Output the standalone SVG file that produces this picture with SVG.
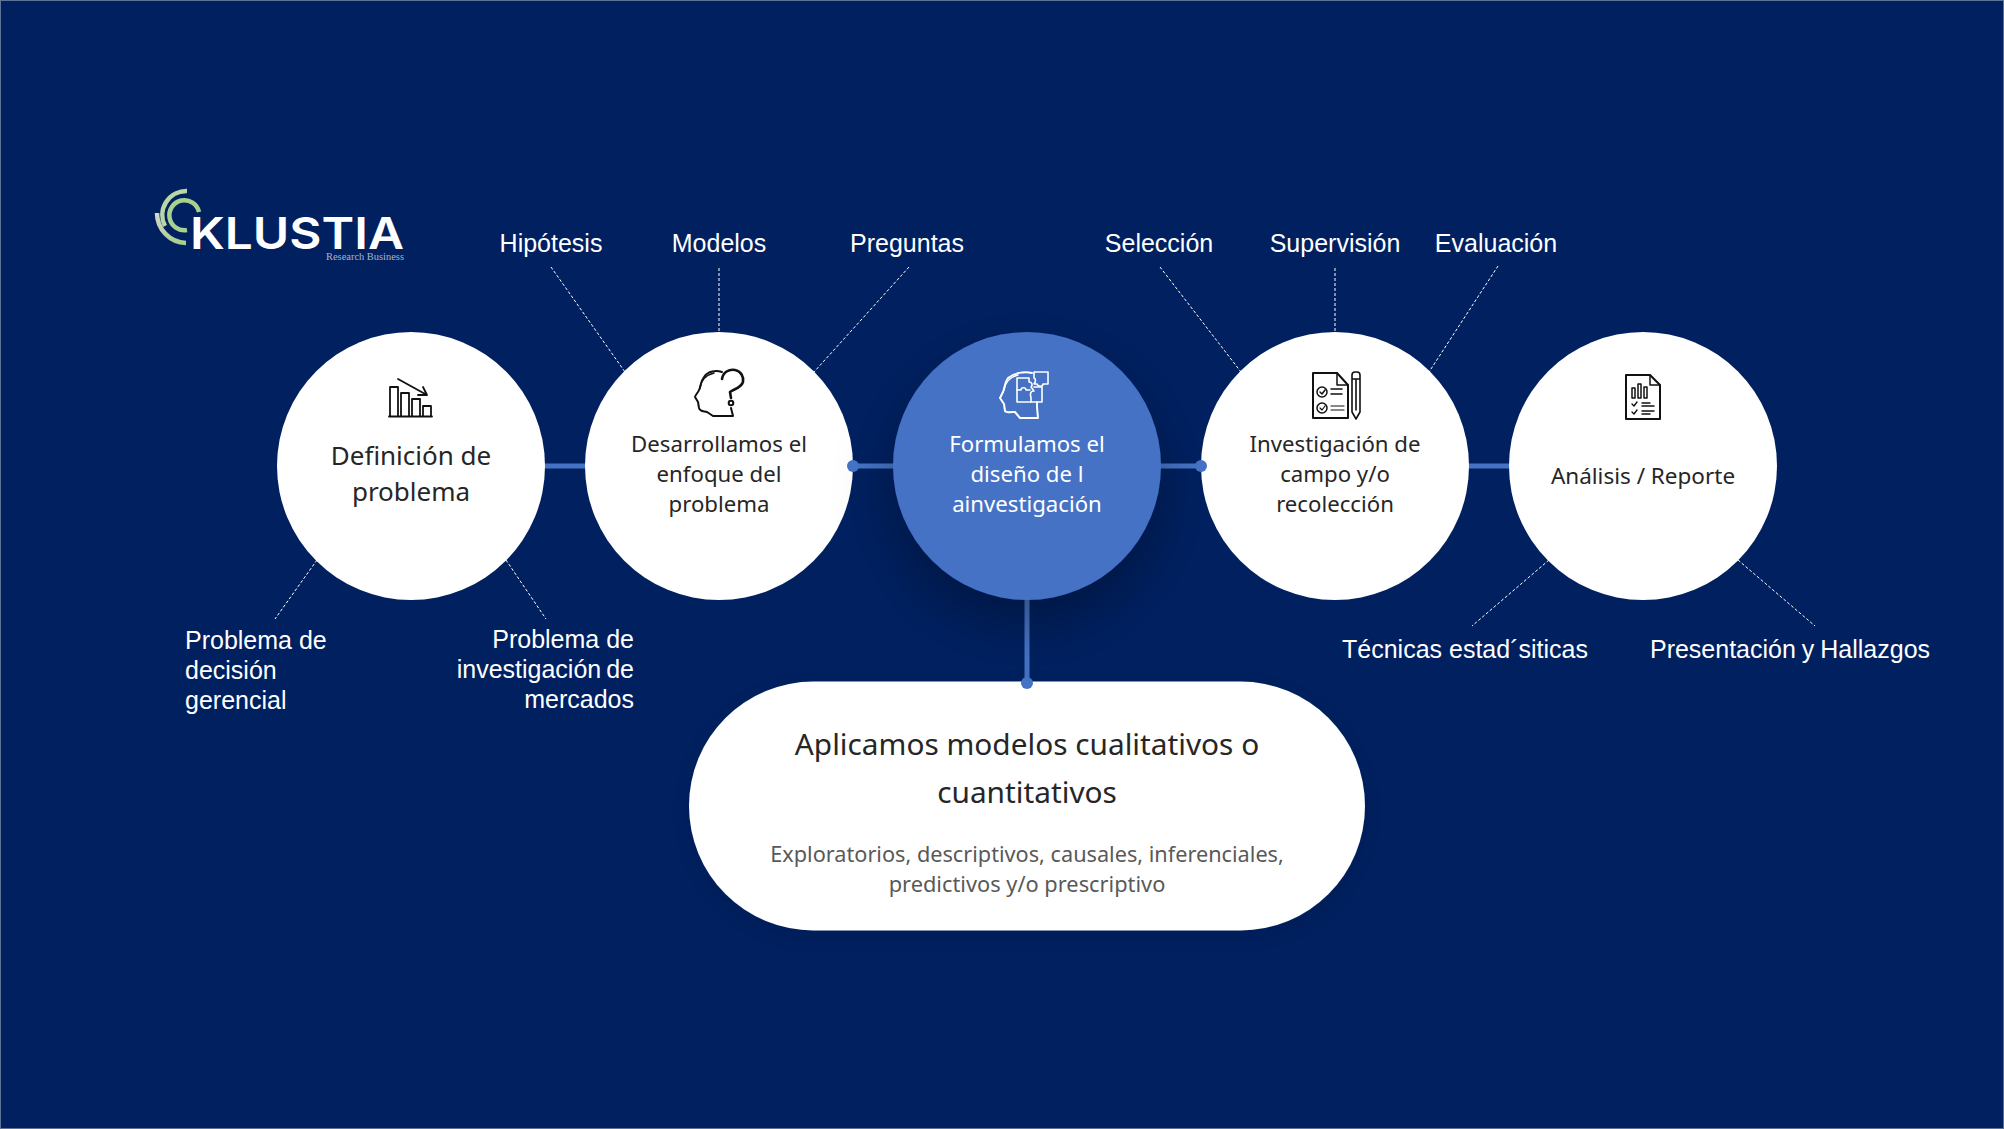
<svg xmlns="http://www.w3.org/2000/svg" width="2004" height="1129" viewBox="0 0 2004 1129">
<defs>
<style>
.lead{stroke:#fff;stroke-width:1;stroke-dasharray:3 2;fill:none}
.conn{stroke:#4472c4;stroke-width:5;fill:none}
.dot{fill:#4472c4}
.lab{font-family:"Liberation Sans",Arial,sans-serif;font-size:25px;fill:#fff}
.nt{font-family:"Noto Sans","Open Sans",sans-serif;font-size:22.200px;fill:#262626;text-anchor:middle}
.ic{fill:none;stroke:#111;stroke-width:2;stroke-linejoin:round;stroke-linecap:round}
.icw{fill:none;stroke:#fff;stroke-width:2;stroke-linejoin:round;stroke-linecap:round}
</style>
<filter id="sh" x="-40%" y="-40%" width="180%" height="190%"><feDropShadow dx="0" dy="24" stdDeviation="28" flood-color="#000" flood-opacity="0.3"/></filter>
<filter id="sh2" x="-20%" y="-30%" width="140%" height="170%"><feDropShadow dx="0" dy="6" stdDeviation="14" flood-color="#000" flood-opacity="0.12"/></filter>
<linearGradient id="lg" x1="0" y1="0" x2="0" y2="1"><stop offset="0" stop-color="#d5d9d2"/><stop offset="1" stop-color="#a9cf8e"/></linearGradient>
</defs>
<rect x="0" y="0" width="2004" height="1129" fill="#002060"/>
<rect x="0.5" y="0.5" width="2003" height="1128" fill="none" stroke="#5d7297" stroke-width="1"/>

<g id="logo">
<path d="M199 212A15 15 0 1 0 187 230" fill="none" stroke="#a9d18e" stroke-width="4.500"/>
<path d="M187 191A24 24 0 0 0 165 226" fill="none" stroke="#b9d6a4" stroke-width="4.500"/>
<path d="M157 213A30 30 0 0 0 186 243" fill="none" stroke="url(#lg)" stroke-width="4.500"/>
<text x="190" y="249" font-family="Inter,'Open Sans',sans-serif" font-weight="600" font-size="44" fill="#fff" textLength="214" lengthAdjust="spacingAndGlyphs">KLUSTIA</text>
<text x="326" y="260" font-family="'Liberation Serif',serif" font-size="9.500" fill="#aab4cc" textLength="78" lengthAdjust="spacingAndGlyphs">Research Business</text>
</g>

<g id="connectors">
<path class="conn" d="M545 466H1509M1027 600V681"/>
<path class="lead" d="M551 267L625 372M719 268V332M909 267L814 372M1160 267L1241 372M1335 268V332M1498 266L1429 372M317 560L275 619M506 560L546 619M1549 560L1472 626M1738 560L1815 626"/>
</g>

<g id="node-definicion">
<circle cx="411" cy="466" r="134" fill="#fff"/>
<g class="ic"><path d="M390 416V387h8V416M401 416V393h8V416M412 416V399h8V416M423 416V406h8V416M389 416.500H432" stroke-width="1.800"/><path d="M398 379L427 395M427 395L418 395M427 395L423 387" stroke-width="1.800"/></g>
<text class="nt" x="411" y="465" style="font-size:26px">Definición de</text>
<text class="nt" x="411" y="501" style="font-size:26px">problema</text>
</g>

<g id="node-enfoque">
<circle cx="719" cy="466" r="134" fill="#fff"/>
<g class="ic"><path d="M722 372C716 370 708 371 704 377C700 382 701 387 699 390C698 393 695 395 695 397L698 402L699 408C700 412 704 411 707 412L713 416H733L731 408"/><path d="M700 388C701 380 706 375 714 373" stroke-width="1.500"/><path d="M722 379C723 372 729 369 735 370C741 371 744 377 743 382C741 388 734 389 730 392L731 398" stroke-width="2.600"/><circle cx="731" cy="403" r="2.300"/></g>
<text class="nt" x="719" y="452">Desarrollamos el</text>
<text class="nt" x="719" y="482">enfoque del</text>
<text class="nt" x="719" y="512">problema</text>
</g>

<g id="node-diseno">
<circle cx="1027" cy="466" r="134" fill="#4472c4" filter="url(#sh)"/>
<g class="icw"><path d="M1032 373C1024 371 1014 373 1008 378C1004 383 1005 388 1003 392L1000 398L1004 404L1005 411C1006 413 1012 412 1015 412L1020 418H1038L1037 407L1037 402"/><path d="M1004 390C1005 383 1010 377 1018 375" stroke-width="1.500"/><path d="M1017 378H1029V382C1032 382 1033 385 1031 387L1034 391C1030 391 1030 394 1031 398V402H1017Z" stroke-width="1.600"/><path d="M1034 387H1042V402H1031M1017 390H1021C1021 387 1026 387 1026 390H1030" stroke-width="1.600"/><path d="M1034 372H1048V384H1043C1043 387 1038 387 1037 384H1034C1036 381 1036 379 1034 378Z" stroke-width="1.600"/></g>
<text class="nt" x="1027" y="452" style="fill:#fff">Formulamos el</text>
<text class="nt" x="1027" y="482" style="fill:#fff">diseño de l</text>
<text class="nt" x="1027" y="512" style="fill:#fff">ainvestigación</text>
</g>

<g id="node-campo">
<circle cx="1335" cy="466" r="134" fill="#fff"/>
<g class="ic"><path d="M1313 373H1337L1348 385V418H1313Z"/><path d="M1337 373V385H1348" stroke-width="1.500"/><circle cx="1322" cy="392" r="5" stroke-width="1.500"/><path d="M1320 392L1322 394L1325 390M1331 389H1342M1331 394H1342" stroke-width="1.500"/><circle cx="1322" cy="408" r="5" stroke-width="1.500"/><path d="M1320 408L1322 410L1325 406M1331 406H1344M1331 410H1344" stroke-width="1.200"/><path d="M1352 375a3 3 0 0 1 3-3h2a3 3 0 0 1 3 3V412L1356 419L1352 412ZM1352 379H1360M1356 379V410" stroke-width="1.600"/></g>
<text class="nt" x="1335" y="452">Investigación de</text>
<text class="nt" x="1335" y="482">campo y/o</text>
<text class="nt" x="1335" y="512">recolección</text>
</g>

<g id="node-analisis">
<circle cx="1643" cy="466" r="134" fill="#fff"/>
<g class="ic"><path d="M1626 375H1650L1660 385V419H1626Z"/><path d="M1650 375V385L1660 385" stroke-width="1.500"/><path d="M1632 388h3v10h-3ZM1638 384h3v14h-3ZM1644 387h3v11h-3Z" stroke-width="1.500"/><path d="M1632 404L1634 406L1637 402M1632 412L1634 414L1637 410M1642 403H1650M1642 406H1654M1642 411H1654M1642 414H1650" stroke-width="1.400"/></g>
<text class="nt" x="1643" y="484" style="font-size:22.500px">Análisis / Reporte</text>
</g>

<g id="node-modelos">
<rect x="689" y="681.500" width="676" height="249" rx="124.500" fill="#fff" filter="url(#sh2)"/>
<text class="nt" x="1027" y="755" style="font-size:29.800px">Aplicamos modelos cualitativos o</text>
<text class="nt" x="1027" y="803" style="font-size:29.800px">cuantitativos</text>
<text class="nt" x="1027" y="862" style="fill:#595959;font-size:21.700px">Exploratorios, descriptivos, causales, inferenciales,</text>
<text class="nt" x="1027" y="892" style="fill:#595959;font-size:21.800px">predictivos y/o prescriptivo</text>
</g>

<g id="junctions">
<circle class="dot" cx="853" cy="466" r="6"/>
<circle class="dot" cx="1201" cy="466" r="6"/>
<circle class="dot" cx="1027" cy="683" r="6"/>
</g>

<g id="labels">
<text class="lab" x="551" y="252" text-anchor="middle">Hipótesis</text>
<text class="lab" x="719" y="252" text-anchor="middle">Modelos</text>
<text class="lab" x="907" y="252" text-anchor="middle">Preguntas</text>
<text class="lab" x="1159" y="252" text-anchor="middle">Selección</text>
<text class="lab" x="1335" y="251.500" text-anchor="middle">Supervisión</text>
<text class="lab" x="1496" y="252" text-anchor="middle">Evaluación</text>
<text class="lab" x="185" y="649">Problema de</text>
<text class="lab" x="185" y="679">decisión</text>
<text class="lab" x="185" y="709">gerencial</text>
<text class="lab" x="634" y="648" text-anchor="end">Problema de</text>
<text class="lab" x="634" y="678" text-anchor="end" word-spacing="-2">investigación de</text>
<text class="lab" x="634" y="708" text-anchor="end">mercados</text>
<text class="lab" x="1465" y="658" text-anchor="middle">Técnicas estad´siticas</text>
<text class="lab" x="1790" y="658" text-anchor="middle" word-spacing="-1">Presentación y Hallazgos</text>
</g>
</svg>
